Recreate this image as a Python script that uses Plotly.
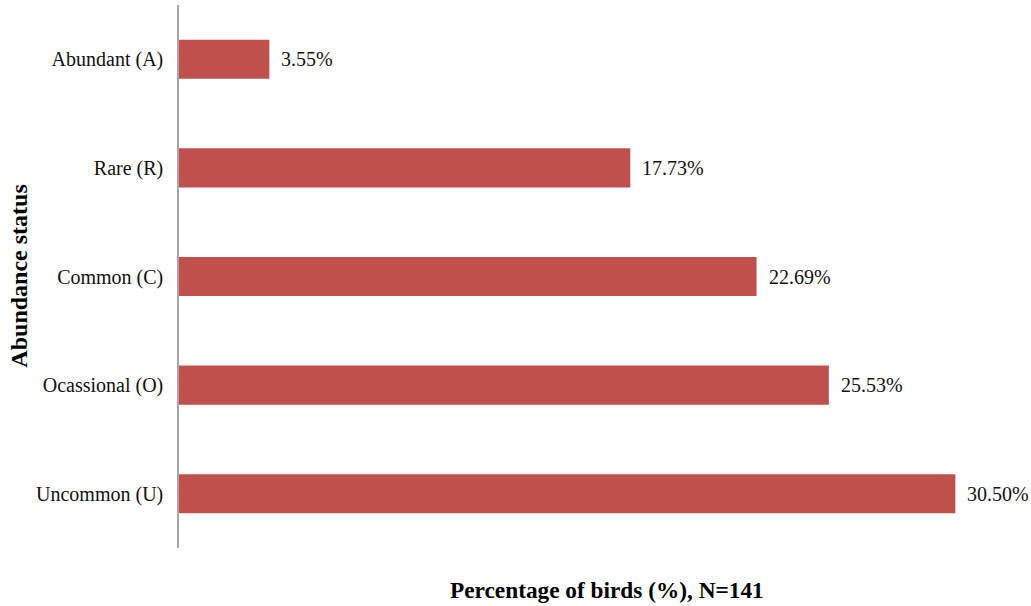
import plotly.graph_objects as go

categories = ["Abundant (A)", "Rare (R)", "Common (C)", "Ocassional (O)", "Uncommon (U)"]
values = [3.55, 17.73, 22.69, 25.53, 30.50]
labels = ["3.55%", "17.73%", "22.69%", "25.53%", "30.50%"]

FONT = "Liberation Serif"

fig = go.Figure()
fig.add_trace(go.Bar(
    x=values, y=categories, orientation="h",
    marker=dict(color="#C0504D", line=dict(width=0)),
    width=0.36,
    hoverinfo="skip",
))

for v, c, t in zip(values, categories, labels):
    fig.add_annotation(x=v, y=c, text=t, xanchor="left", yanchor="middle",
                       xshift=10, showarrow=False,
                       font=dict(family=FONT, size=20, color="#111"))

fig.add_annotation(text="<b>Abundance status</b>", xref="paper", yref="paper",
                   x=-0.1915, y=0.5, textangle=-90, showarrow=False,
                   xanchor="center", yanchor="middle",
                   font=dict(family=FONT, size=24, color="#000"))
fig.add_annotation(text="<b>Percentage of birds (%), N=141</b>", xref="paper", yref="paper",
                   x=0.5095, y=-0.0773, showarrow=False, xanchor="center", yanchor="middle",
                   font=dict(family=FONT, size=23.3, color="#000"))

fig.update_layout(
    width=1031, height=606,
    margin=dict(l=179, r=12, t=5, b=58),
    paper_bgcolor="white", plot_bgcolor="white",
    showlegend=False,
    font=dict(family=FONT, size=20, color="#111"),
    xaxis=dict(range=[0, 33], showgrid=False, zeroline=False, showticklabels=False,
               showline=False, ticks=""),
    yaxis=dict(categoryorder="array", categoryarray=categories[::-1],
               range=[-0.5, 4.5], showgrid=False, zeroline=False,
               showline=True, linecolor="#A6A6A6", linewidth=1.5,
               ticks="outside", ticklen=10, tickcolor="rgba(0,0,0,0)",
               tickfont=dict(family=FONT, size=20, color="#111")),
)

fig.write_html("out.html")
